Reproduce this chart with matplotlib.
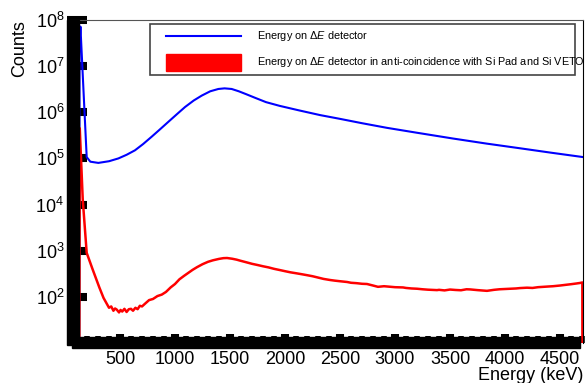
import matplotlib
matplotlib.use("Agg")
import matplotlib.pyplot as plt
from matplotlib.patches import Rectangle
from matplotlib.lines import Line2D
from matplotlib.ticker import NullLocator, MultipleLocator

plt.rcParams["font.family"] = ["Liberation Sans", "DejaVu Sans"]
plt.rcParams["mathtext.fontset"] = "custom"
plt.rcParams["mathtext.rm"] = "Liberation Sans"
plt.rcParams["mathtext.it"] = "Liberation Sans:italic"

# data (energy in keV, counts)
blue_energy = [128, 132, 140, 197, 230, 303, 400, 485, 560, 636, 710, 788, 860,
               939, 1015, 1091, 1170, 1243, 1320, 1394, 1450, 1515, 1580, 1650,
               1730, 1827, 1950, 2127, 2318, 2500, 2700, 2927, 3200, 3527, 3830,
               4136, 4420, 4709]
blue_counts = [10, 3.0e7, 7.2e7, 1.07e5, 8.5e4, 8.0e4, 8.7e4, 1.0e5, 1.2e5,
               1.5e5, 2.05e5, 2.96e5, 4.2e5, 6.2e5, 9.0e5, 1.3e6, 1.8e6, 2.3e6,
               2.85e6, 3.2e6, 3.3e6, 3.2e6, 2.85e6, 2.45e6, 2.05e6, 1.66e6,
               1.38e6, 1.1e6, 8.7e5, 7.2e5, 5.8e5, 4.6e5, 3.6e5, 2.7e5, 2.1e5,
               1.66e5, 1.33e5, 1.07e5]

red_energy = [75, 130, 134, 161, 197, 250, 312, 350, 400, 420, 440, 455, 470,
              491, 505, 520, 540, 560, 580, 600, 618, 640, 660, 680, 700, 730,
              764, 800, 840, 880, 918, 960, 1000, 1040, 1082, 1120, 1160, 1200,
              1250, 1300, 1345, 1400, 1440, 1473, 1520, 1560, 1591, 1650, 1700,
              1750, 1800, 1850, 1900, 1955, 2000, 2050, 2100, 2150, 2200, 2250,
              2300, 2350, 2409, 2450, 2500, 2564, 2600, 2650, 2700, 2745, 2800,
              2845, 2900, 2950, 3000, 3073, 3100, 3150, 3200, 3250, 3300, 3382,
              3400, 3450, 3500, 3550, 3600, 3650, 3682, 3750, 3800, 3836, 3900,
              3950, 4000, 4050, 4100, 4136, 4200, 4250, 4300, 4350, 4400, 4436,
              4500, 4550, 4600, 4650, 4682, 4703, 4704]
red_counts = [10, 10, 4.5e5, 1.3e4, 900, 400, 160, 95, 58, 62, 50, 56, 53, 46,
              52, 48, 55, 47, 54, 55, 50, 58, 54, 64, 62, 72, 85, 90, 104, 112,
              128, 160, 190, 240, 285, 330, 385, 440, 510, 575, 620, 665, 690,
              695, 670, 640, 610, 560, 520, 490, 460, 435, 405, 380, 360, 340,
              325, 310, 295, 280, 262, 245, 232, 225, 218, 210, 202, 198, 192,
              190, 176, 165, 170, 166, 162, 160, 156, 152, 150, 146, 143, 140,
              142, 138, 144, 141, 139, 146, 145, 140, 137, 135, 142, 146, 148,
              150, 152, 155, 158, 156, 162, 165, 168, 170, 176, 182, 188, 195,
              200, 205, 1]

x_ticks = [500, 1000, 1500, 2000, 2500, 3000, 3500, 4000, 4500]
y_ticks = [1e2, 1e3, 1e4, 1e5, 1e6, 1e7, 1e8]
legend_labels = [r"Energy on $\mathit{\Delta E}$ detector",
                 r"Energy on $\mathit{\Delta E}$ detector in anti-coincidence with Si Pad and Si VETO"]

W, H = 585, 383


def fx(x):
    return x / W


def fy(y):
    return 1 - y / H


fig = plt.figure(figsize=(W / 100, H / 100), dpi=100)
ax = fig.add_axes([fx(67), fy(343), (583 - 67) / W, (343 - 20) / H])

ax.plot(blue_energy, blue_counts, color="#0000ff", lw=1.5)
ax.plot(red_energy, red_counts, color="#ff0000", lw=1.8)

ax.set_yscale("log")
ax.set_xlim(18, 4709)
ax.set_ylim(10, 1e8)
ax.set_yticks(y_ticks)
ax.yaxis.set_minor_locator(NullLocator())
ax.set_xticks(x_ticks)
ax.xaxis.set_minor_locator(MultipleLocator(100))

ax.tick_params(axis="y", which="major", direction="in", length=14.4, width=5.8,
               pad=2, labelsize=13, color="black")
ax.tick_params(axis="x", which="major", direction="in", length=6.5, width=5.8,
               pad=6, labelsize=13)
ax.tick_params(axis="x", which="minor", direction="in", length=5, width=4)

ax.spines["top"].set_color("#555555")
ax.spines["top"].set_linewidth(0.8)
ax.spines["right"].set_linewidth(0.8)
ax.spines["left"].set_visible(False)
ax.spines["bottom"].set_visible(False)

# the thick black axis bands of the original
fig.patches.append(Rectangle((fx(67), fy(345)), 12 / W, (345 - 20) / H,
                             transform=fig.transFigure, color="black", zorder=5))
fig.patches.append(Rectangle((fx(72), fy(348)), (580 - 72) / W, 11 / H,
                             transform=fig.transFigure, color="black", zorder=5))

ax.set_ylabel("Counts", fontsize=13, loc="top")
ax.yaxis.set_label_coords((28 - 67) / 516, 1.0)
ax.set_xlabel("Energy (keV)", fontsize=13, loc="right")
ax.xaxis.set_label_coords(1.0, (343 - 367) / 323)

# legend box drawn by hand, text runs past the frame like the original
fig.patches.append(Rectangle((fx(150), fy(75)), (575 - 150) / W, (75 - 24) / H,
                             transform=fig.transFigure, facecolor="white",
                             edgecolor="#444444", lw=1.2, zorder=6))
fig.lines.append(Line2D([fx(166), fx(241)], [fy(36), fy(36)],
                        transform=fig.transFigure, color="#0000ff", lw=1.5, zorder=7))
fig.patches.append(Rectangle((fx(166), fy(71)), 75 / W, 17 / H,
                             transform=fig.transFigure, color="#ff0000", zorder=7))
fig.text(fx(257), fy(36), legend_labels[0], fontsize=7.8, va="center", zorder=8)
fig.text(fx(257), fy(62), legend_labels[1], fontsize=7.8, va="center", zorder=8)

fig.savefig("out.png", dpi=100)
